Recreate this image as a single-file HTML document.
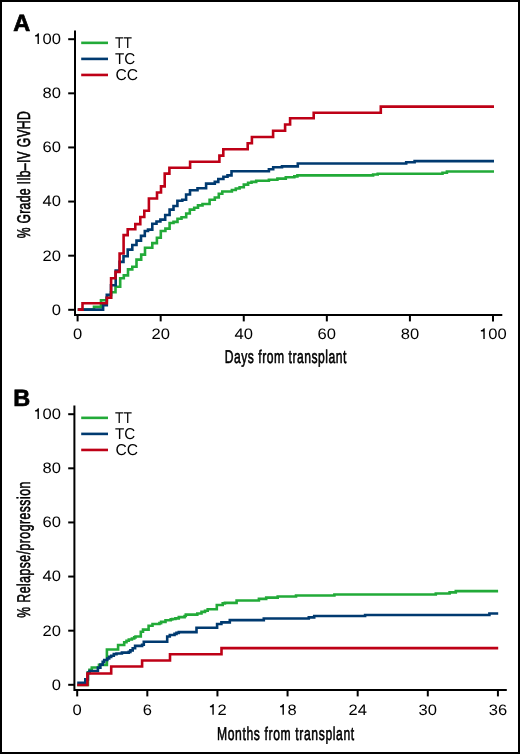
<!DOCTYPE html>
<html><head><meta charset="utf-8"><style>
html,body{margin:0;padding:0;background:#fff;}
svg{display:block;will-change:transform;}
text{text-rendering:geometricPrecision;}
.t{font-family:"Liberation Sans",sans-serif;font-size:15.2px;fill:#000;}
.c{font-family:"Liberation Sans",sans-serif;font-size:18.4px;fill:#000;stroke:#000;stroke-width:0.6px;}
.c2{font-family:"Liberation Sans",sans-serif;font-size:18.4px;fill:#000;stroke:#000;stroke-width:0.6px;}
.lg{font-family:"Liberation Sans",sans-serif;font-size:15.6px;fill:#000;}
.p{font-family:"Liberation Sans",sans-serif;font-size:23.5px;font-weight:bold;fill:#000;stroke:#000;stroke-width:0.7px;}
</style></head><body>
<svg width="520" height="754" viewBox="0 0 520 754">
<rect x="0" y="0" width="520" height="754" fill="#fff"/>
<rect x="1" y="1" width="518" height="752" fill="none" stroke="#000" stroke-width="2"/>
<text x="13.3" y="30.8" class="p">A</text>
<text x="13.3" y="405.6" class="p">B</text>
<path d="M75.0 30.5 V316.1 M74.0 315.1 H502.30" stroke="#000" stroke-width="2" fill="none"/>
<path d="M68.2 309.80 H75.0" stroke="#000" stroke-width="2"/>
<text x="51.79" y="314.70" class="t" textLength="9.21" lengthAdjust="spacingAndGlyphs">0</text>
<path d="M68.2 255.68 H75.0" stroke="#000" stroke-width="2"/>
<text x="42.58" y="260.58" class="t" textLength="9.21" lengthAdjust="spacingAndGlyphs">2</text><text x="51.79" y="260.58" class="t" textLength="9.21" lengthAdjust="spacingAndGlyphs">0</text>
<path d="M68.2 201.56 H75.0" stroke="#000" stroke-width="2"/>
<text x="42.58" y="206.46" class="t" textLength="9.21" lengthAdjust="spacingAndGlyphs">4</text><text x="51.79" y="206.46" class="t" textLength="9.21" lengthAdjust="spacingAndGlyphs">0</text>
<path d="M68.2 147.44 H75.0" stroke="#000" stroke-width="2"/>
<text x="42.58" y="152.34" class="t" textLength="9.21" lengthAdjust="spacingAndGlyphs">6</text><text x="51.79" y="152.34" class="t" textLength="9.21" lengthAdjust="spacingAndGlyphs">0</text>
<path d="M68.2 93.32 H75.0" stroke="#000" stroke-width="2"/>
<text x="42.58" y="98.22" class="t" textLength="9.21" lengthAdjust="spacingAndGlyphs">8</text><text x="51.79" y="98.22" class="t" textLength="9.21" lengthAdjust="spacingAndGlyphs">0</text>
<path d="M68.2 39.20 H75.0" stroke="#000" stroke-width="2"/>
<path d="M38.91 44.10 V33.35 H37.86 C37.56 34.60 36.56 35.10 35.06 35.20 V36.50 H37.51 V44.10 Z" fill="#000"/><text x="42.58" y="44.10" class="t" textLength="9.21" lengthAdjust="spacingAndGlyphs">0</text><text x="51.79" y="44.10" class="t" textLength="9.21" lengthAdjust="spacingAndGlyphs">0</text>
<path d="M77.60 315.5 V321.4" stroke="#000" stroke-width="2"/>
<text x="72.99" y="339.00" class="t" textLength="9.21" lengthAdjust="spacingAndGlyphs">0</text>
<path d="M160.68 315.5 V321.4" stroke="#000" stroke-width="2"/>
<text x="151.47" y="339.00" class="t" textLength="9.21" lengthAdjust="spacingAndGlyphs">2</text><text x="160.68" y="339.00" class="t" textLength="9.21" lengthAdjust="spacingAndGlyphs">0</text>
<path d="M243.76 315.5 V321.4" stroke="#000" stroke-width="2"/>
<text x="234.55" y="339.00" class="t" textLength="9.21" lengthAdjust="spacingAndGlyphs">4</text><text x="243.76" y="339.00" class="t" textLength="9.21" lengthAdjust="spacingAndGlyphs">0</text>
<path d="M326.84 315.5 V321.4" stroke="#000" stroke-width="2"/>
<text x="317.63" y="339.00" class="t" textLength="9.21" lengthAdjust="spacingAndGlyphs">6</text><text x="326.84" y="339.00" class="t" textLength="9.21" lengthAdjust="spacingAndGlyphs">0</text>
<path d="M409.92 315.5 V321.4" stroke="#000" stroke-width="2"/>
<text x="400.71" y="339.00" class="t" textLength="9.21" lengthAdjust="spacingAndGlyphs">8</text><text x="409.92" y="339.00" class="t" textLength="9.21" lengthAdjust="spacingAndGlyphs">0</text>
<path d="M493.00 315.5 V321.4" stroke="#000" stroke-width="2"/>
<path d="M484.73 339.00 V328.25 H483.68 C483.38 329.50 482.38 330.00 480.88 330.10 V331.40 H483.33 V339.00 Z" fill="#000"/><text x="488.39" y="339.00" class="t" textLength="9.21" lengthAdjust="spacingAndGlyphs">0</text><text x="497.61" y="339.00" class="t" textLength="9.21" lengthAdjust="spacingAndGlyphs">0</text>
<path d="M81.2 42.85 H108" stroke="#22aa38" stroke-width="2.6"/>
<text x="115.0" y="47.75" class="lg" textLength="16.9" lengthAdjust="spacingAndGlyphs">TT</text>
<path d="M81.2 58.90 H108" stroke="#003a70" stroke-width="2.6"/>
<text x="115.0" y="63.80" class="lg" textLength="20.2" lengthAdjust="spacingAndGlyphs">TC</text>
<path d="M81.2 74.95 H108" stroke="#be0016" stroke-width="2.6"/>
<text x="115.5" y="79.85" class="lg">CC</text>
<text transform="translate(285.6 363.4) scale(0.66 1)" x="0" y="0" text-anchor="middle" class="c" vector-effect="non-scaling-stroke" textLength="184.55" lengthAdjust="spacing">Days from transplant</text>
<text transform="translate(29.8 174.8) rotate(-90) scale(0.66 1)" x="0" y="0" text-anchor="middle" class="c2" vector-effect="non-scaling-stroke" textLength="192.42" lengthAdjust="spacing">% Grade IIb–IV GVHD</text>
<path d="M77.8 309.60 94.0 309.60 94.0 306.80 101.0 306.80 101.0 300.30 106.8 300.30 106.8 297.70 111.0 297.70 111.0 292.20 115.5 292.20 115.5 286.70 120.2 286.70 120.2 278.20 123.8 278.20 123.8 275.40 128.0 275.40 128.0 269.40 132.3 269.40 132.3 266.70 136.5 266.70 136.5 259.60 141.2 259.60 141.2 254.60 145.0 254.60 145.0 247.70 152.3 247.70 152.3 243.10 156.9 243.10 156.9 237.70 160.8 237.70 160.8 231.00 165.4 231.00 165.4 228.60 169.6 228.60 169.6 223.00 173.5 223.00 173.5 221.90 177.5 221.90 177.5 218.80 181.5 218.80 181.5 217.30 186.2 217.30 186.2 213.50 189.8 213.50 189.8 209.60 194.2 209.60 194.2 207.70 198.0 207.70 198.0 205.40 202.5 205.40 202.5 204.00 209.6 204.00 209.6 199.80 214.8 199.80 214.8 197.50 218.8 197.50 218.8 193.70 222.3 193.70 222.3 191.50 231.9 191.50 231.9 190.00 235.8 190.00 235.8 188.50 239.6 188.50 239.6 187.30 243.8 187.30 243.8 184.60 248.1 184.60 248.1 182.70 251.5 182.70 251.5 181.90 256.2 181.90 256.2 180.80 268.9 180.80 268.9 179.80 277.4 179.80 277.4 178.60 285.8 178.60 285.8 177.30 294.3 177.30 294.3 176.40 297.4 176.40 297.4 175.40 373.1 175.40 373.1 174.50 377.7 174.50 377.7 173.80 442.5 173.80 442.5 172.80 446.9 172.80 446.9 171.50 494.0 171.50" stroke="#22aa38" stroke-width="2.6" fill="none" stroke-linejoin="miter" stroke-linecap="butt"/>
<path d="M77.8 309.60 103.1 309.60 103.1 305.30 106.8 305.30 106.8 294.90 111.0 294.90 111.0 285.30 115.7 285.30 115.7 270.50 119.6 270.50 119.6 261.90 123.5 261.90 123.5 256.20 127.7 256.20 127.7 249.60 132.3 249.60 132.3 245.00 136.5 245.00 136.5 240.60 141.0 240.60 141.0 235.90 144.8 235.90 144.8 231.00 148.0 231.00 148.0 229.60 152.3 229.60 152.3 223.80 156.5 223.80 156.5 221.50 160.4 221.50 160.4 219.60 165.2 219.60 165.2 215.00 169.6 215.00 169.6 209.60 173.5 209.60 173.5 206.00 177.4 206.00 177.4 200.80 182.3 200.80 182.3 199.80 186.1 199.80 186.1 194.50 190.0 194.50 190.0 190.20 197.5 190.20 197.5 188.30 206.1 188.30 206.1 183.60 214.8 183.60 214.8 181.90 218.3 181.90 218.3 179.00 223.4 179.00 223.4 176.80 227.5 176.80 227.5 175.40 231.5 175.40 231.5 171.20 268.9 171.20 268.9 169.20 273.2 169.20 273.2 167.30 282.0 167.30 282.0 166.40 297.8 166.40 297.8 163.50 406.2 163.50 406.2 162.20 414.6 162.20 414.6 161.10 494.0 161.10" stroke="#003a70" stroke-width="2.6" fill="none" stroke-linejoin="miter" stroke-linecap="butt"/>
<path d="M77.8 309.60 82.5 309.60 82.5 303.30 106.8 303.30 106.8 297.70 111.1 297.70 111.1 278.20 115.5 278.20 115.5 271.90 119.6 271.90 119.6 253.50 123.6 253.50 123.6 235.10 127.7 235.10 127.7 229.20 135.3 229.20 135.3 224.10 140.3 224.10 140.3 217.00 144.3 217.00 144.3 210.70 148.9 210.70 148.9 198.50 157.0 198.50 157.0 192.50 161.0 192.50 161.0 186.40 164.7 186.40 164.7 173.60 169.4 173.60 169.4 167.80 190.1 167.80 190.1 161.70 219.4 161.70 219.4 155.60 223.3 155.60 223.3 149.20 247.7 149.20 247.7 143.20 251.9 143.20 251.9 137.00 273.1 137.00 273.1 130.70 285.1 130.70 285.1 124.50 290.1 124.50 290.1 118.30 313.7 118.30 313.7 112.70 380.8 112.70 380.8 106.60 494.0 106.60" stroke="#be0016" stroke-width="2.6" fill="none" stroke-linejoin="miter" stroke-linecap="butt"/>
<path d="M74.4 405.5 V691.1 M73.4 690.1 H506.80" stroke="#000" stroke-width="2" fill="none"/>
<path d="M68.2 684.80 H74.4" stroke="#000" stroke-width="2"/>
<text x="51.79" y="689.70" class="t" textLength="9.21" lengthAdjust="spacingAndGlyphs">0</text>
<path d="M68.2 630.68 H74.4" stroke="#000" stroke-width="2"/>
<text x="42.58" y="635.58" class="t" textLength="9.21" lengthAdjust="spacingAndGlyphs">2</text><text x="51.79" y="635.58" class="t" textLength="9.21" lengthAdjust="spacingAndGlyphs">0</text>
<path d="M68.2 576.56 H74.4" stroke="#000" stroke-width="2"/>
<text x="42.58" y="581.46" class="t" textLength="9.21" lengthAdjust="spacingAndGlyphs">4</text><text x="51.79" y="581.46" class="t" textLength="9.21" lengthAdjust="spacingAndGlyphs">0</text>
<path d="M68.2 522.44 H74.4" stroke="#000" stroke-width="2"/>
<text x="42.58" y="527.34" class="t" textLength="9.21" lengthAdjust="spacingAndGlyphs">6</text><text x="51.79" y="527.34" class="t" textLength="9.21" lengthAdjust="spacingAndGlyphs">0</text>
<path d="M68.2 468.32 H74.4" stroke="#000" stroke-width="2"/>
<text x="42.58" y="473.22" class="t" textLength="9.21" lengthAdjust="spacingAndGlyphs">8</text><text x="51.79" y="473.22" class="t" textLength="9.21" lengthAdjust="spacingAndGlyphs">0</text>
<path d="M68.2 414.20 H74.4" stroke="#000" stroke-width="2"/>
<path d="M38.91 419.10 V408.35 H37.86 C37.56 409.60 36.56 410.10 35.06 410.20 V411.50 H37.51 V419.10 Z" fill="#000"/><text x="42.58" y="419.10" class="t" textLength="9.21" lengthAdjust="spacingAndGlyphs">0</text><text x="51.79" y="419.10" class="t" textLength="9.21" lengthAdjust="spacingAndGlyphs">0</text>
<path d="M77.20 690.5 V696.4" stroke="#000" stroke-width="2"/>
<text x="72.59" y="714.80" class="t" textLength="9.21" lengthAdjust="spacingAndGlyphs">0</text>
<path d="M147.32 690.5 V696.4" stroke="#000" stroke-width="2"/>
<text x="142.71" y="714.80" class="t" textLength="9.21" lengthAdjust="spacingAndGlyphs">6</text>
<path d="M217.44 690.5 V696.4" stroke="#000" stroke-width="2"/>
<path d="M213.78 714.80 V704.05 H212.73 C212.43 705.30 211.43 705.80 209.93 705.90 V707.20 H212.38 V714.80 Z" fill="#000"/><text x="217.44" y="714.80" class="t" textLength="9.21" lengthAdjust="spacingAndGlyphs">2</text>
<path d="M287.56 690.5 V696.4" stroke="#000" stroke-width="2"/>
<path d="M283.90 714.80 V704.05 H282.85 C282.55 705.30 281.55 705.80 280.05 705.90 V707.20 H282.50 V714.80 Z" fill="#000"/><text x="287.56" y="714.80" class="t" textLength="9.21" lengthAdjust="spacingAndGlyphs">8</text>
<path d="M357.68 690.5 V696.4" stroke="#000" stroke-width="2"/>
<text x="348.47" y="714.80" class="t" textLength="9.21" lengthAdjust="spacingAndGlyphs">2</text><text x="357.68" y="714.80" class="t" textLength="9.21" lengthAdjust="spacingAndGlyphs">4</text>
<path d="M427.80 690.5 V696.4" stroke="#000" stroke-width="2"/>
<text x="418.59" y="714.80" class="t" textLength="9.21" lengthAdjust="spacingAndGlyphs">3</text><text x="427.80" y="714.80" class="t" textLength="9.21" lengthAdjust="spacingAndGlyphs">0</text>
<path d="M497.92 690.5 V696.4" stroke="#000" stroke-width="2"/>
<text x="488.71" y="714.80" class="t" textLength="9.21" lengthAdjust="spacingAndGlyphs">3</text><text x="497.92" y="714.80" class="t" textLength="9.21" lengthAdjust="spacingAndGlyphs">6</text>
<path d="M81.2 417.85 H108" stroke="#22aa38" stroke-width="2.6"/>
<text x="115.0" y="422.75" class="lg" textLength="16.9" lengthAdjust="spacingAndGlyphs">TT</text>
<path d="M81.2 433.90 H108" stroke="#003a70" stroke-width="2.6"/>
<text x="115.0" y="438.80" class="lg" textLength="20.2" lengthAdjust="spacingAndGlyphs">TC</text>
<path d="M81.2 449.95 H108" stroke="#be0016" stroke-width="2.6"/>
<text x="115.5" y="454.85" class="lg">CC</text>
<text transform="translate(285.6 739.7) scale(0.66 1)" x="0" y="0" text-anchor="middle" class="c" vector-effect="non-scaling-stroke" textLength="207.88" lengthAdjust="spacing">Months from transplant</text>
<text transform="translate(29.8 549.8) rotate(-90) scale(0.66 1)" x="0" y="0" text-anchor="middle" class="c2" vector-effect="non-scaling-stroke" textLength="206.06" lengthAdjust="spacing">% Relapse/progression</text>
<path d="M77.2 685.05 87.9 685.05 87.9 672.35 89.5 672.35 89.5 669.75 91.8 669.75 91.8 667.55 99.0 667.55 99.0 664.85 106.9 664.85 106.9 649.55 118.1 649.55 118.1 644.95 124.2 644.95 124.2 642.25 126.5 642.25 126.5 640.75 128.8 640.75 128.8 639.55 131.9 639.55 131.9 638.45 134.2 638.45 134.2 637.35 135.5 637.35 135.5 636.55 140.8 636.55 140.8 631.75 143.0 631.75 143.0 629.65 148.6 629.65 148.6 625.75 152.5 625.75 152.5 624.05 159.4 624.05 159.4 623.15 161.1 623.15 161.1 621.85 165.5 621.85 165.5 620.25 170.7 620.25 170.7 619.35 172.3 619.35 172.3 618.95 175.4 618.95 175.4 618.35 178.8 618.35 178.8 617.15 184.6 617.15 184.6 616.05 185.8 616.05 185.8 614.65 197.3 614.65 197.3 613.45 201.5 613.45 201.5 611.85 205.0 611.85 205.0 610.75 207.7 610.75 207.7 609.25 216.8 609.25 216.8 604.95 222.7 604.95 222.7 603.35 224.9 603.35 224.9 602.85 236.6 602.85 236.6 600.45 258.9 600.45 258.9 598.85 266.2 598.85 266.2 597.65 277.7 597.65 277.7 596.55 296.0 596.55 296.0 595.45 334.4 595.45 334.4 594.55 435.8 594.55 435.8 593.45 449.6 593.45 449.6 592.35 455.8 592.35 455.8 591.15 498.1 591.15" stroke="#22aa38" stroke-width="2.6" fill="none" stroke-linejoin="miter" stroke-linecap="butt"/>
<path d="M77.2 682.85 85.3 682.85 85.3 679.35 87.9 679.35 87.9 672.85 89.5 672.85 89.5 670.95 97.9 670.95 97.9 667.65 100.4 667.65 100.4 664.65 102.7 664.65 102.7 661.85 104.2 661.85 104.2 659.95 107.3 659.95 107.3 658.45 109.2 658.45 109.2 656.85 111.2 656.85 111.2 655.75 113.8 655.75 113.8 654.15 116.5 654.15 116.5 653.45 121.9 653.45 121.9 652.65 128.8 652.65 128.8 651.85 130.4 651.85 130.4 650.35 132.7 650.35 132.7 648.25 135.1 648.25 135.1 645.85 142.1 645.85 142.1 644.75 143.8 644.75 143.8 641.75 167.2 641.75 167.2 636.55 169.8 636.55 169.8 634.95 174.5 634.95 174.5 633.85 176.5 633.85 176.5 632.85 178.8 632.85 178.8 632.15 196.5 632.15 196.5 627.75 217.1 627.75 217.1 624.05 221.4 624.05 221.4 622.35 229.8 622.35 229.8 620.15 263.8 620.15 263.8 618.55 308.8 618.55 308.8 617.35 314.2 617.35 314.2 616.05 365.1 616.05 365.1 615.05 489.4 615.05 489.4 613.55 498.2 613.55" stroke="#003a70" stroke-width="2.6" fill="none" stroke-linejoin="miter" stroke-linecap="butt"/>
<path d="M77.2 685.05 87.4 685.05 87.4 673.45 111.2 673.45 111.2 666.45 142.1 666.45 142.1 660.45 170.0 660.45 170.0 654.25 221.5 654.25 221.5 648.15 498.2 648.15" stroke="#be0016" stroke-width="2.6" fill="none" stroke-linejoin="miter" stroke-linecap="butt"/>
</svg>
</body></html>
